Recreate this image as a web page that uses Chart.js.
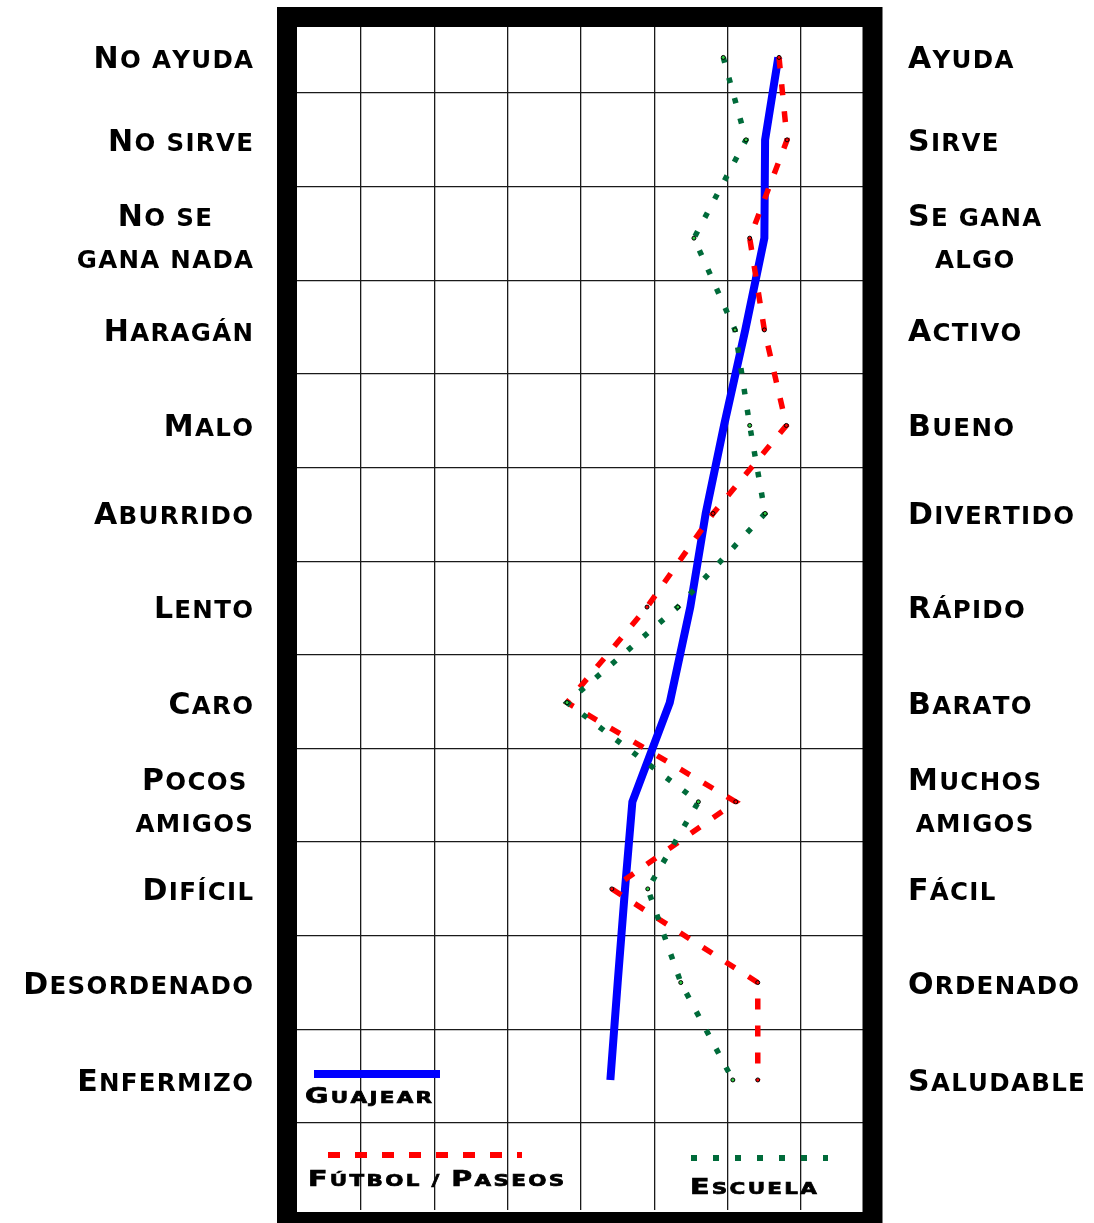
<!DOCTYPE html>
<html>
<head>
<meta charset="utf-8">
<script src="https://cdn.jsdelivr.net/npm/chart.js@4.4.1/dist/chart.umd.min.js"></script>
<style>
  html, body { margin: 0; padding: 0; background: #fff; }
  canvas { display: block; }
</style>
</head>
<body>
<canvas id="perfil" width="1094" height="1223"></canvas>
<script>
// adjetivos de cada fila (izquierda = polo negativo, derecha = polo positivo)
const leftLabels = ["No ayuda", "No sirve", ["No se", "gana nada"], "Haragán", "Malo", "Aburrido",
  "Lento", "Caro", ["Pocos", "amigos"], "Difícil", "Desordenado", "Enfermizo"];
const rightLabels = ["Ayuda", "Sirve", ["Se gana", "algo"], "Activo", "Bueno", "Divertido",
  "Rápido", "Barato", ["Muchos", "amigos"], "Fácil", "Ordenado", "Saludable"];

// posición vertical de cada fila (en unidades de la cuadrícula)
const rowPos = [0.62, 1.50, 2.55, 3.53, 4.55, 5.49, 6.49, 7.51, 8.57, 9.50, 10.50, 11.54];

// líneas de la cuadrícula
const gridX = [1, 2, 3, 4, 5, 6, 7];
const gridY = [1, 2, 3, 4, 5, 6, 7, 8, 9, 10, 11, 12];

const seriesNames = ["Guajear", "Fútbol / Paseos", "Escuela"];
const guajear = [6.69, 6.51, 6.50, 6.24, 5.95, 5.70, 5.49, 5.21, 4.70, 4.60, 4.50, 4.40];
const futbol  = [6.70, 6.81, 6.30, 6.50, 6.80, 5.80, 4.90, 3.81, 6.11, 4.42, 6.41, 6.41];
const escuela = [5.94, 6.25, 5.54, 6.10, 6.30, 6.51, 5.32, 3.81, 5.60, 4.91, 5.36, 6.07];

const BLUE = "#0000ff", RED = "#ff0000", GREEN = "#006b3a";
const FAMILY = "'DejaVu Sans'";

function toPoints(vals){
  return vals.map((v, i) => ({ x: v, y: rowPos[i] }));
}

// versalitas a mano: mayúsculas grandes, minúsculas como mayúsculas pequeñas
function capsWidth(ctx, text, o){
  let w = 0;
  for (const ch of text){
    const up = ch !== ch.toLowerCase();
    ctx.font = `bold ${up ? o.big : o.small}px ${FAMILY}`;
    w += ctx.measureText(ch.toUpperCase()).width * o.stretch + o.spacing;
  }
  return w - o.spacing;
}

function drawCaps(ctx, text, x, y, o){
  let cx = x;
  for (const ch of text){
    const up = ch !== ch.toLowerCase();
    ctx.font = `bold ${up ? o.big : o.small}px ${FAMILY}`;
    const g = ch.toUpperCase();
    const w = ctx.measureText(g).width;
    ctx.save();
    ctx.translate(cx, y);
    ctx.scale(o.stretch, 1);
    ctx.fillText(g, 0, 0);
    if (o.stroke){
      ctx.lineWidth = o.stroke;
      ctx.strokeStyle = "#000";
      ctx.strokeText(g, 0, 0);
    }
    ctx.restore();
    cx += w * o.stretch + o.spacing;
  }
}

const rowFont = { big: 30, small: 24.5, spacing: 1.3, stretch: 1.0, stroke: 0 };
const legFont = { big: 22, small: 16.5, spacing: 2.3, stretch: 1.3, stroke: 0.7 };

const decorPlugin = {
  id: "decor",
  afterDraw(chart){
    const { ctx, chartArea: a, scales } = chart;
    const ys = scales.y;
    ctx.save();
    ctx.fillStyle = "#000";
    ctx.textBaseline = "alphabetic";
    ctx.textAlign = "left";

    // etiquetas de las filas
    const lineGap = 42;
    rowPos.forEach((rp, i) => {
      const py = ys.getPixelForValue(rp);
      [[leftLabels[i], "L"], [rightLabels[i], "R"]].forEach(([lab, side]) => {
        const lines = Array.isArray(lab) ? lab : [lab];
        const widths = lines.map(t => capsWidth(ctx, t, rowFont));
        const blockW = Math.max(...widths);
        const blockX = side === "L" ? 253 - blockW : a.right + 45;
        lines.forEach((t, k) => {
          const by = py + 11 + (k - (lines.length - 1) / 2) * lineGap - (lines.length > 1 ? 2 : 0);
          drawCaps(ctx, t, blockX + (blockW - widths[k]) / 2, by, rowFont);
        });
      });
    });

    // leyenda
    ctx.lineCap = "butt";
    ctx.strokeStyle = BLUE; ctx.lineWidth = 8; ctx.setLineDash([]);
    ctx.beginPath(); ctx.moveTo(314, 1074); ctx.lineTo(440, 1074); ctx.stroke();
    ctx.strokeStyle = RED; ctx.lineWidth = 6; ctx.setLineDash([12, 15]);
    ctx.beginPath(); ctx.moveTo(328, 1155); ctx.lineTo(522, 1155); ctx.stroke();
    ctx.strokeStyle = GREEN; ctx.lineWidth = 6; ctx.setLineDash([6, 16]);
    ctx.beginPath(); ctx.moveTo(691, 1158); ctx.lineTo(828, 1158); ctx.stroke();
    ctx.setLineDash([]);
    drawCaps(ctx, seriesNames[0], 305, 1103, legFont);
    drawCaps(ctx, seriesNames[1], 308, 1186, legFont);
    drawCaps(ctx, seriesNames[2], 690, 1194, legFont);

    // marco grueso
    ctx.strokeStyle = "#000";
    ctx.lineWidth = 20;
    ctx.strokeRect(a.left - 10, a.top - 10, a.right - a.left + 19.5, a.bottom - a.top + 22);
    ctx.restore();
  }
};

new Chart(document.getElementById("perfil"), {
  type: "line",
  data: {
    datasets: [
      {
        label: seriesNames[0], data: toPoints(guajear), order: 3,
        borderColor: BLUE, borderWidth: 8, pointRadius: 0,
        borderJoinStyle: "miter", borderCapStyle: "butt"
      },
      {
        label: seriesNames[1], data: toPoints(futbol), order: 2,
        borderColor: RED, borderWidth: 5.5, borderDash: [11, 16],
        pointRadius: 2, pointBorderColor: "#000", pointBorderWidth: 1, pointBackgroundColor: RED,
        borderJoinStyle: "miter", borderCapStyle: "butt"
      },
      {
        label: seriesNames[2], data: toPoints(escuela), order: 1,
        borderColor: GREEN, borderWidth: 5.5, borderDash: [5.5, 15.5],
        pointRadius: 2, pointBorderColor: "#000", pointBorderWidth: 1, pointBackgroundColor: "#2ecc40",
        borderJoinStyle: "miter", borderCapStyle: "butt"
      }
    ]
  },
  options: {
    responsive: false,
    animation: false,
    layout: { padding: { left: 297, right: 231, top: 27, bottom: 13 } },
    plugins: { legend: { display: false }, tooltip: { enabled: false } },
    elements: { line: { tension: 0 } },
    scales: {
      x: {
        type: "linear", min: 0.127, max: 7.845,
        afterBuildTicks: s => { s.ticks = gridX.map(v => ({ value: v })); },
        afterFit: s => { s.height = 0; },
        ticks: { display: false },
        grid: { color: "#1a1a1a", lineWidth: 1.3, drawTicks: false },
        border: { display: false }
      },
      y: {
        type: "linear", reverse: true, min: 0.295, max: 12.929,
        afterBuildTicks: s => { s.ticks = gridY.map(v => ({ value: v })); },
        afterFit: s => { s.width = 0; },
        ticks: { display: false },
        grid: { color: "#1a1a1a", lineWidth: 1.3, drawTicks: false },
        border: { display: false }
      }
    }
  },
  plugins: [decorPlugin]
});
</script>
</body>
</html>
